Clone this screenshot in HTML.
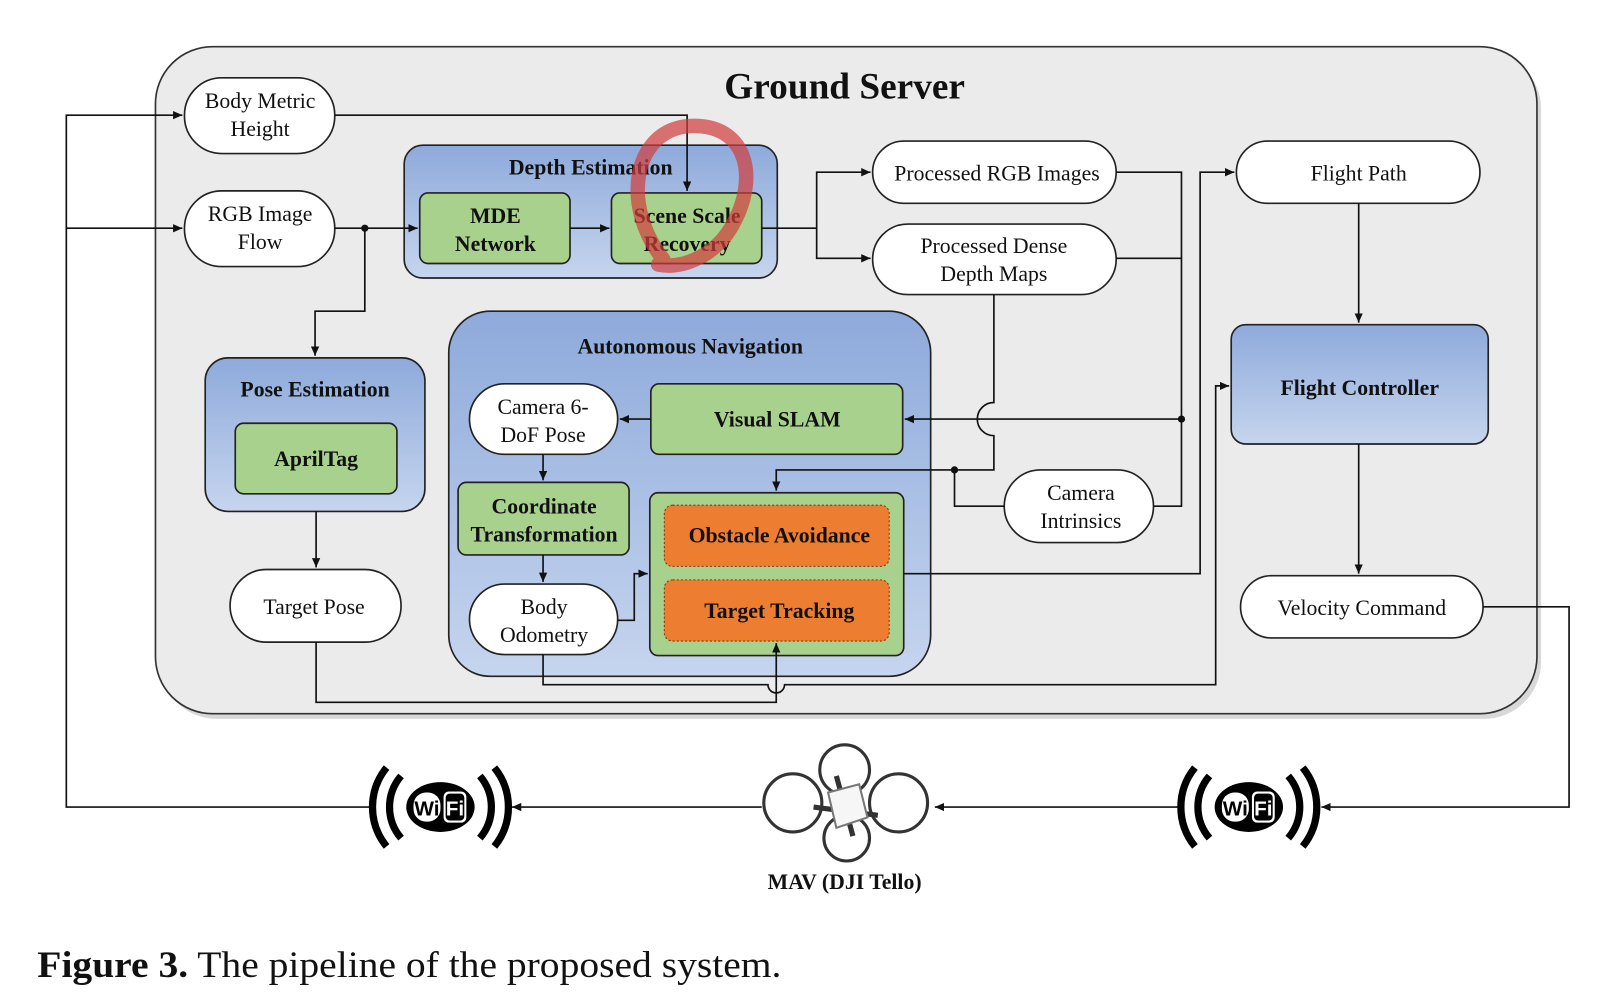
<!DOCTYPE html>
<html><head><meta charset="utf-8"><style>
html,body{margin:0;padding:0;background:#fff;width:1624px;height:1000px;overflow:hidden}
svg{display:block}
text{font-family:"Liberation Serif",serif;fill:#111}
.n{font-size:21px;text-anchor:middle}
.b{font-size:21px;font-weight:bold;text-anchor:middle}
.ln{fill:none;stroke:#111;stroke-width:1.6}
.pill{fill:#fff;stroke:#222;stroke-width:1.6}
.gr{fill:#a9d18e;stroke:#222;stroke-width:1.6}
.or{fill:#ed7d31;stroke:#7a3a10;stroke-width:1;stroke-dasharray:2 2}
.bl{fill:url(#bg);stroke:#222;stroke-width:1.6}
</style></head><body>
<svg width="1624" height="1000" viewBox="0 0 1567 964" preserveAspectRatio="none" xmlns="http://www.w3.org/2000/svg">
<defs>
<linearGradient id="bg" x1="0" y1="0" x2="0" y2="1"><stop offset="0" stop-color="#8eaadb"/><stop offset="1" stop-color="#c6d5ee"/></linearGradient>
<marker id="a" markerWidth="10" markerHeight="10" refX="9" refY="5" orient="auto" markerUnits="userSpaceOnUse"><path d="M0,1 L9,5 L0,9 z" fill="#111"/></marker>
</defs>
<rect x="154" y="50" width="1333" height="643" rx="55" fill="#d8d8d8"/>
<rect x="150" y="45" width="1333" height="643" rx="55" fill="#ebebeb" stroke="#333" stroke-width="1.6"/>
<text x="815" y="95" style="font-size:36px;font-weight:bold;text-anchor:middle">Ground Server</text>

<rect class="pill" x="178" y="75" width="145" height="73" rx="36"/>
<text class="n" x="251" y="104">Body Metric</text><text class="n" x="251" y="131">Height</text>
<rect class="pill" x="178" y="184" width="145" height="73" rx="36"/>
<text class="n" x="251" y="213">RGB Image</text><text class="n" x="251" y="240">Flow</text>

<rect class="bl" x="390" y="140" width="360" height="128" rx="18"/>
<text class="b" x="570" y="168">Depth Estimation</text>
<rect class="gr" x="405" y="186" width="145" height="68" rx="8"/>
<text class="b" x="478" y="215">MDE</text><text class="b" x="478" y="242">Network</text>
<rect class="gr" x="590" y="186" width="145" height="68" rx="8"/>
<text class="b" x="663" y="215">Scene Scale</text><text class="b" x="663" y="242">Recovery</text>

<rect class="pill" x="842" y="136" width="235" height="60" rx="30"/>
<text class="n" x="962" y="174">Processed RGB Images</text>
<rect class="pill" x="842" y="216" width="235" height="68" rx="34"/>
<text class="n" x="959" y="244">Processed Dense</text><text class="n" x="959" y="271">Depth Maps</text>

<rect class="pill" x="1193" y="136" width="235" height="60" rx="30"/>
<text class="n" x="1311" y="174">Flight Path</text>
<rect class="bl" x="1188" y="313" width="248" height="115" rx="14"/>
<text class="b" x="1312" y="381">Flight Controller</text>
<rect class="pill" x="1197" y="555" width="234" height="60" rx="30"/>
<text class="n" x="1314" y="593">Velocity Command</text>

<rect class="bl" x="198" y="345" width="212" height="148" rx="22"/>
<text class="b" x="304" y="382">Pose Estimation</text>
<rect class="gr" x="227" y="408" width="156" height="68" rx="8"/>
<text class="b" x="305" y="449">AprilTag</text>
<rect class="pill" x="222" y="549" width="165" height="70" rx="35"/>
<text class="n" x="303" y="592">Target Pose</text>

<rect class="bl" x="433" y="300" width="465" height="352" rx="40"/>
<text class="b" x="666" y="341">Autonomous Navigation</text>
<rect class="pill" x="453" y="370" width="143" height="68" rx="34"/>
<text class="n" x="524" y="399">Camera 6-</text><text class="n" x="524" y="426">DoF Pose</text>
<rect class="gr" x="628" y="370" width="243" height="68" rx="8"/>
<text class="b" x="750" y="411">Visual SLAM</text>
<rect class="gr" x="442" y="465" width="165" height="70" rx="8"/>
<text class="b" x="525" y="495">Coordinate</text><text class="b" x="525" y="522">Transformation</text>
<rect class="pill" x="453" y="563" width="143" height="68" rx="34"/>
<text class="n" x="525" y="592">Body</text><text class="n" x="525" y="619">Odometry</text>
<rect class="gr" x="627" y="475" width="245" height="157" rx="8"/>
<rect class="or" x="641" y="487" width="217" height="59" rx="8"/>
<text class="b" x="752" y="523">Obstacle Avoidance</text>
<rect class="or" x="641" y="559" width="217" height="59" rx="8"/>
<text class="b" x="752" y="596">Target Tracking</text>

<rect class="pill" x="969" y="453" width="144" height="70" rx="35"/>
<text class="n" x="1043" y="482">Camera</text><text class="n" x="1043" y="509">Intrinsics</text>

<path class="ln" d="M360,778 H64 V111 H176" marker-end="url(#a)"/>
<path class="ln" d="M64,220 H176" marker-end="url(#a)"/>
<path class="ln" d="M323,111 H663 V184" marker-end="url(#a)"/>
<path class="ln" d="M323,220 H403" marker-end="url(#a)"/>
<circle cx="352" cy="220" r="3.5" fill="#111"/>
<path class="ln" d="M352,220 V300 H304 V343" marker-end="url(#a)"/>
<path class="ln" d="M550,220 H588" marker-end="url(#a)"/>
<path class="ln" d="M735,220 H788 V166 H840" marker-end="url(#a)"/>
<path class="ln" d="M788,220 V249 H840" marker-end="url(#a)"/>
<path class="ln" d="M1077,166 H1140 V488 H1113"/>
<path class="ln" d="M1077,249 H1140"/>
<circle cx="1140" cy="404" r="3.5" fill="#111"/>
<path class="ln" d="M1140,404 H873" marker-end="url(#a)"/>
<path class="ln" d="M959,284 V388 A16,16 0 0 0 959,420 V453 H749 V473" marker-end="url(#a)"/>
<circle cx="921" cy="453" r="3.5" fill="#111"/>
<path class="ln" d="M921,453 V488 H969"/>
<path class="ln" d="M628,404 H598" marker-end="url(#a)"/>
<path class="ln" d="M524,438 V463" marker-end="url(#a)"/>
<path class="ln" d="M524,535 V561" marker-end="url(#a)"/>
<path class="ln" d="M596,598 H612 V553 H625" marker-end="url(#a)"/>
<path class="ln" d="M524,631 V660 H741 A8,8 0 0 0 757,660 H1173 V372 H1186" marker-end="url(#a)"/>
<path class="ln" d="M305,619 V677 H749 V620" marker-end="url(#a)"/>
<path class="ln" d="M305,493 V547" marker-end="url(#a)"/>
<path class="ln" d="M872,553 H1158 V166 H1191" marker-end="url(#a)"/>
<path class="ln" d="M1311,196 V311" marker-end="url(#a)"/>
<path class="ln" d="M1311,428 V553" marker-end="url(#a)"/>
<path class="ln" d="M1431,585 H1514 V778 H1275" marker-end="url(#a)"/>
<path class="ln" d="M1140,778 H902" marker-end="url(#a)"/>
<path class="ln" d="M735,778 H494" marker-end="url(#a)"/>

<path d="M640,250 C600,200 610,130 660,122 C720,115 735,170 705,220 C690,245 660,260 635,255" fill="none" stroke="rgba(210,60,60,0.7)" stroke-width="14" stroke-linecap="round"/>

<g id="wf" transform="translate(425,778)">
<path d="M-38,-30 A46,46 0 0 0 -38,30" fill="none" stroke="#000" stroke-width="7"/>
<path d="M-52,-38 A60,60 0 0 0 -52,38" fill="none" stroke="#000" stroke-width="7"/>
<path d="M38,-30 A46,46 0 0 1 38,30" fill="none" stroke="#000" stroke-width="7"/>
<path d="M52,-38 A60,60 0 0 1 52,38" fill="none" stroke="#000" stroke-width="7"/>
<ellipse cx="0" cy="0" rx="33" ry="24" fill="#000"/>
<rect x="-26" y="-14" width="26" height="28" rx="12" fill="#fff"/>
<text x="-13" y="8" style="font-family:'Liberation Sans',sans-serif;font-weight:bold;font-size:20px;text-anchor:middle;fill:#000">Wi</text>
<rect x="3" y="-15" width="22" height="30" rx="5" fill="#fff"/>
<rect x="5" y="-13" width="18" height="26" rx="4" fill="#000"/>
<text x="14" y="8" style="font-family:'Liberation Sans',sans-serif;font-weight:bold;font-size:20px;text-anchor:middle;fill:#fff">Fi</text>
</g>
<use href="#wf" transform="translate(780,0)"/>

<g transform="translate(815,778)" fill="none" stroke="#333" stroke-width="3">
<circle cx="-50" cy="-4" r="28"/><circle cx="52" cy="-4" r="28"/>
<circle cx="0" cy="-36" r="24"/><circle cx="2" cy="30" r="22"/>
<path d="M-30,0 L32,8 M-8,-30 L8,28" stroke-width="5"/>
<path d="M-16,-14 L14,-22 L22,10 L-8,20 Z" fill="#f6f6f6" stroke="#777" stroke-width="2"/>
</g>
<text x="815" y="857" style="font-size:21px;font-weight:bold;text-anchor:middle">MAV (DJI Tello)</text>

<text x="36" y="942" textLength="718" lengthAdjust="spacingAndGlyphs" style="font-size:36px"><tspan font-weight="bold">Figure 3.</tspan> The pipeline of the proposed system.</text>
</svg>
</body></html>
